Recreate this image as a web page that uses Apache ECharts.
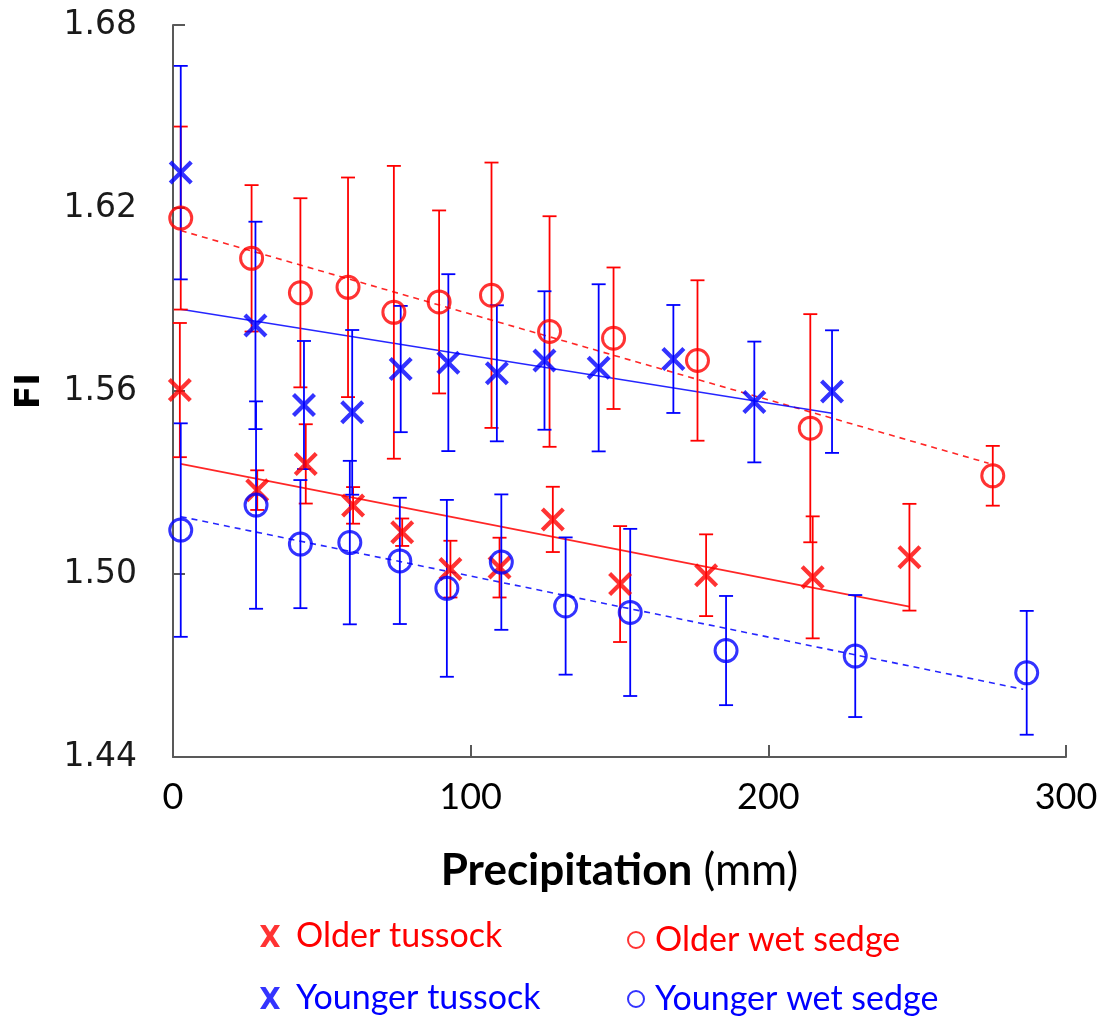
<!DOCTYPE html>
<html>
<head>
<meta charset="utf-8">
<script src="https://cdn.jsdelivr.net/npm/echarts@6/dist/echarts.min.js"></script>
<style>
    html, body { margin: 0; padding: 0; background: #fff; }
    #chartDiv { width: 1102px; height: 1017px; }
</style>
</head>
<body>
<div id="chartDiv"></div>
<script>
    // values: precipitation (mm), FI mean, error (+/-)
    var olderTussockX   = [2.3, 28.3, 44.6, 60.5, 77.0, 93.2, 109.7, 127.6, 150.2, 179.1, 214.9, 247.4];
    var olderTussockFI  = [1.5603, 1.5275, 1.5361, 1.5225, 1.5137, 1.5016, 1.5021, 1.5179, 1.4967, 1.4996, 1.4989, 1.5055];
    var olderTussockErr = [0.022, 0.0065, 0.013, 0.006, 0.0045, 0.0093, 0.0098, 0.0107, 0.019, 0.0134, 0.02, 0.0175];

    var olderSedgeX   = [2.6, 26.4, 42.8, 58.8, 74.2, 89.4, 107.0, 126.5, 148.0, 176.2, 214.1, 275.4];
    var olderSedgeFI  = [1.6167, 1.6035, 1.5922, 1.594, 1.5858, 1.5892, 1.5914, 1.5795, 1.5773, 1.57, 1.5478, 1.5322];
    var olderSedgeErr = [0.03, 0.024, 0.031, 0.036, 0.048, 0.03, 0.0435, 0.0378, 0.0232, 0.0263, 0.0374, 0.0098];

    var youngerTussockX   = [2.6, 27.7, 44.0, 60.2, 76.5, 92.5, 108.8, 124.8, 143.0, 168.1, 195.3, 221.4];
    var youngerTussockFI  = [1.6316, 1.5815, 1.5554, 1.553, 1.5672, 1.5693, 1.5658, 1.57, 1.5676, 1.5705, 1.5564, 1.5598];
    var youngerTussockErr = [0.035, 0.034, 0.021, 0.027, 0.0207, 0.029, 0.0223, 0.0227, 0.0274, 0.0177, 0.0198, 0.0201];

    var youngerSedgeX   = [2.6, 27.9, 42.8, 59.4, 76.2, 92.0, 110.3, 131.9, 153.6, 185.8, 229.2, 286.8];
    var youngerSedgeFI  = [1.5144, 1.5226, 1.5098, 1.5103, 1.5043, 1.4953, 1.5039, 1.4895, 1.4874, 1.4749, 1.4731, 1.4676];
    var youngerSedgeErr = [0.035, 0.034, 0.021, 0.0268, 0.0207, 0.029, 0.0222, 0.0225, 0.0274, 0.0179, 0.02, 0.0203];

    // linear fits (start / end points)
    var fitOlderTussock   = [[2.6, 1.5361], [247.4, 1.4893]];
    var fitOlderSedge     = [[2.6, 1.6126], [274.0, 1.5363]];
    var fitYoungerTussock = [[2.6, 1.5868], [221.4, 1.5527]];
    var fitYoungerSedge   = [[2.6, 1.5188], [285.6, 1.4622]];

    var xTicks = [0, 100, 200, 300];
    var yTicks = [1.44, 1.50, 1.56, 1.62, 1.68];

    var RED = '#ff0000', BLUE = '#0000ff';
    var crossPath = 'path://M0,2.5 L2.5,0 L10,7.5 L17.5,0 L20,2.5 L12.5,10 L20,17.5 L17.5,20 L10,12.5 L2.5,20 L0,17.5 L7.5,10 Z';
    var legendCross = 'path://M0,0 L5.5,0 L10,7 L14.5,0 L20,0 L13,11 L20,22 L14.5,22 L10,15 L5.5,22 L0,22 L7,11 Z';

    function pts(xs, ys) {
        return xs.map(function (x, i) { return [x, ys[i]]; });
    }
    function errs(xs, ys, es) {
        return xs.map(function (x, i) { return [x, ys[i] - es[i], ys[i] + es[i]]; });
    }

    function errorSeries(name, xs, ys, es, color) {
        return {
            name: name,
            type: 'custom',
            z: 3,
            data: errs(xs, ys, es),
            renderItem: function (params, api) {
                var x = api.value(0);
                var lo = api.coord([x, api.value(1)]);
                var hi = api.coord([x, api.value(2)]);
                var w = 7;
                var st = { stroke: color, lineWidth: 1.8 };
                return {
                    type: 'group',
                    children: [
                        { type: 'line', shape: { x1: lo[0], y1: lo[1], x2: hi[0], y2: hi[1] }, style: st },
                        { type: 'line', shape: { x1: lo[0] - w, y1: lo[1], x2: lo[0] + w, y2: lo[1] }, style: st },
                        { type: 'line', shape: { x1: hi[0] - w, y1: hi[1], x2: hi[0] + w, y2: hi[1] }, style: st }
                    ]
                };
            }
        };
    }

    function fitSeries(name, data, color, dashed) {
        return {
            name: name,
            type: 'line',
            z: 2,
            data: data,
            symbol: 'none',
            silent: true,
            lineStyle: { color: color, width: 1.6, opacity: 0.85, type: dashed ? [6, 5] : 'solid' }
        };
    }

    // one legend block per entry, placed like the original two columns
    function legendItem(name, left, top, icon, color, hollow) {
        return {
            left: left, top: top, orient: 'vertical',
            itemWidth: hollow ? 16 : 20, itemHeight: hollow ? 16 : 24,
            textStyle: { fontFamily: 'Lato', fontSize: 34, color: color, padding: [0, 0, 0, hollow ? 6 : 11] },
            data: [{
                name: name, icon: icon,
                itemStyle: hollow ? { color: 'transparent', borderColor: color, borderWidth: 2 } : { color: color, borderWidth: 0 }
            }]
        };
    }

    var chart = echarts.init(document.getElementById('chartDiv'));

    var option = {
        backgroundColor: '#fff',
        animation: false,
        grid: { left: 173, right: 36, top: 25, bottom: 260, containLabel: false, outerBoundsMode: 'none' },
        xAxis: {
            type: 'value',
            min: xTicks[0], max: xTicks[xTicks.length - 1], interval: 100,
            splitLine: { show: false },
            axisLine: { lineStyle: { color: '#595959', width: 2 } },
            axisTick: { inside: true, length: 12, lineStyle: { color: '#595959', width: 2 } },
            axisLabel: { margin: 22, color: '#000', fontFamily: 'Lato', fontSize: 36 },
            name: '{b|Precipitation}{n| (mm)}',
            nameLocation: 'middle',
            nameGap: 92,
            nameTextStyle: {
                rich: {
                    b: { fontFamily: 'Lato', fontWeight: 'bold', fontSize: 44, color: '#000' },
                    n: { fontFamily: 'Lato', fontSize: 44, color: '#000' }
                }
            }
        },
        yAxis: {
            type: 'value',
            min: yTicks[0], max: yTicks[yTicks.length - 1], interval: 0.06,
            splitLine: { show: false },
            axisLine: { lineStyle: { color: '#595959', width: 2 } },
            axisTick: { inside: true, length: 12, lineStyle: { color: '#595959', width: 2 } },
            axisLabel: {
                margin: 36, color: '#1a1a1a', fontFamily: 'DejaVu Sans', fontSize: 33,
                formatter: function (v) { return v.toFixed(2); }
            },
            name: 'FI',
            nameLocation: 'middle',
            nameGap: 126,
            nameRotate: 90,
            nameTextStyle: { fontFamily: 'DejaVu Sans', fontWeight: 'bold', fontSize: 34, color: '#000' }
        },
        legend: [
            legendItem('Older tussock', 255, 914, legendCross, RED, false),
            legendItem('Younger tussock', 255, 976, legendCross, BLUE, false),
            legendItem('Older wet sedge', 622, 918, 'circle', RED, true),
            legendItem('Younger wet sedge', 622, 977, 'circle', BLUE, true)
        ],
        series: [
            fitSeries('fitOT', fitOlderTussock, RED, false),
            fitSeries('fitOS', fitOlderSedge, RED, true),
            fitSeries('fitYT', fitYoungerTussock, BLUE, false),
            fitSeries('fitYS', fitYoungerSedge, BLUE, true),
            errorSeries('errOT', olderTussockX, olderTussockFI, olderTussockErr, RED),
            errorSeries('errOS', olderSedgeX, olderSedgeFI, olderSedgeErr, RED),
            errorSeries('errYT', youngerTussockX, youngerTussockFI, youngerTussockErr, BLUE),
            errorSeries('errYS', youngerSedgeX, youngerSedgeFI, youngerSedgeErr, BLUE),
            {
                name: 'Older tussock', type: 'scatter', z: 4,
                symbol: crossPath, symbolSize: 24,
                itemStyle: { color: RED },
                data: pts(olderTussockX, olderTussockFI)
            },
            {
                name: 'Older wet sedge', type: 'scatter', z: 4,
                symbol: 'circle', symbolSize: 22,
                itemStyle: { color: 'transparent', borderColor: RED, borderWidth: 3 },
                data: pts(olderSedgeX, olderSedgeFI)
            },
            {
                name: 'Younger tussock', type: 'scatter', z: 4,
                symbol: crossPath, symbolSize: 24,
                itemStyle: { color: BLUE },
                data: pts(youngerTussockX, youngerTussockFI)
            },
            {
                name: 'Younger wet sedge', type: 'scatter', z: 4,
                symbol: 'circle', symbolSize: 22,
                itemStyle: { color: 'transparent', borderColor: BLUE, borderWidth: 3 },
                data: pts(youngerSedgeX, youngerSedgeFI)
            }
        ]
    };

    chart.setOption(option);
</script>
</body>
</html>
